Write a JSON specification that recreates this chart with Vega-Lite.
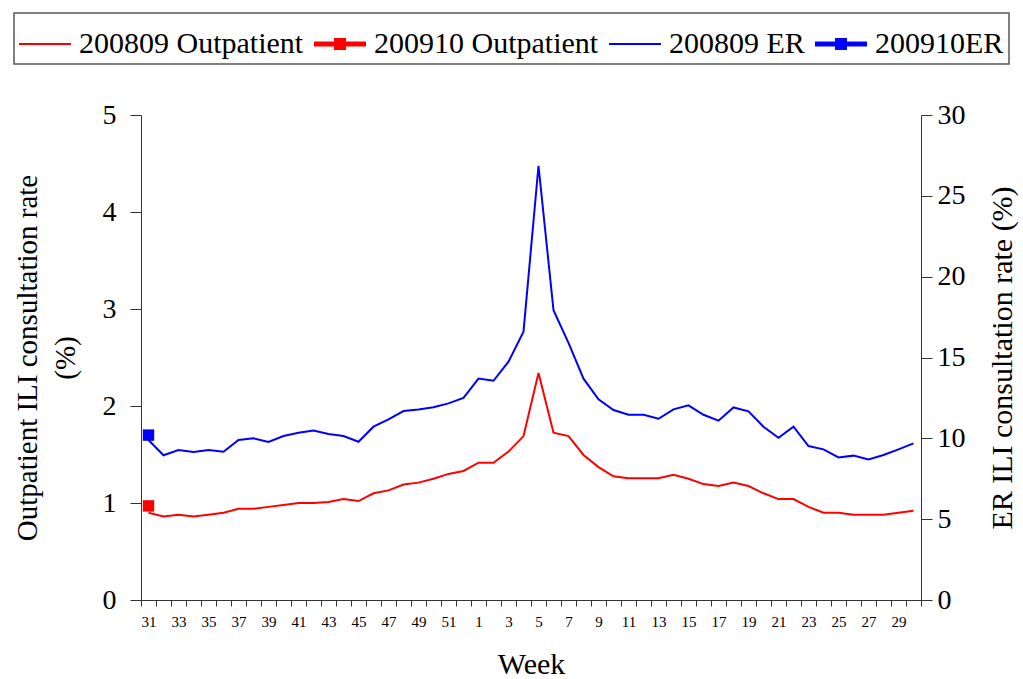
{
  "$schema": "https://vega.github.io/schema/vega-lite/v6.json",
  "width": 780,
  "height": 485,
  "autosize": "none",
  "padding": {"left": 141, "top": 115, "right": 102, "bottom": 79},
  "background": "white",
  "config": {
    "font": "Liberation Serif, Times New Roman, DejaVu Serif, serif",
    "view": {"stroke": null},
    "axis": {
      "grid": false,
      "domainColor": "#333333",
      "tickColor": "#333333",
      "labelColor": "#000000",
      "titleColor": "#000000",
      "titleFontWeight": "normal",
      "labelFont": "Liberation Serif, Times New Roman, DejaVu Serif, serif",
      "titleFont": "Liberation Serif, Times New Roman, DejaVu Serif, serif"
    },
    "legend": {"labelFont": "Liberation Serif, Times New Roman, DejaVu Serif, serif"}
  },
  "datasets": {
    "s0809": [
      {"week": 31, "outpatient": 0.90, "er": 9.9},
      {"week": 32, "outpatient": 0.86, "er": 8.95},
      {"week": 33, "outpatient": 0.88, "er": 9.28},
      {"week": 34, "outpatient": 0.86, "er": 9.15},
      {"week": 35, "outpatient": 0.88, "er": 9.28},
      {"week": 36, "outpatient": 0.90, "er": 9.17},
      {"week": 37, "outpatient": 0.94, "er": 9.9},
      {"week": 38, "outpatient": 0.94, "er": 10.0},
      {"week": 39, "outpatient": 0.96, "er": 9.77},
      {"week": 40, "outpatient": 0.98, "er": 10.14},
      {"week": 41, "outpatient": 1.00, "er": 10.35},
      {"week": 42, "outpatient": 1.00, "er": 10.48},
      {"week": 43, "outpatient": 1.01, "er": 10.27},
      {"week": 44, "outpatient": 1.04, "er": 10.14},
      {"week": 45, "outpatient": 1.02, "er": 9.79},
      {"week": 46, "outpatient": 1.10, "er": 10.72},
      {"week": 47, "outpatient": 1.13, "er": 11.17},
      {"week": 48, "outpatient": 1.19, "er": 11.69},
      {"week": 49, "outpatient": 1.21, "er": 11.79},
      {"week": 50, "outpatient": 1.25, "er": 11.92},
      {"week": 51, "outpatient": 1.30, "er": 12.16},
      {"week": 52, "outpatient": 1.33, "er": 12.5},
      {"week": 1, "outpatient": 1.415, "er": 13.7},
      {"week": 2, "outpatient": 1.415, "er": 13.56},
      {"week": 3, "outpatient": 1.53, "er": 14.74},
      {"week": 4, "outpatient": 1.69, "er": 16.6},
      {"week": 5, "outpatient": 2.34, "er": 26.86},
      {"week": 6, "outpatient": 1.725, "er": 17.93},
      {"week": 7, "outpatient": 1.69, "er": 15.91},
      {"week": 8, "outpatient": 1.495, "er": 13.69},
      {"week": 9, "outpatient": 1.37, "er": 12.41},
      {"week": 10, "outpatient": 1.275, "er": 11.75},
      {"week": 11, "outpatient": 1.255, "er": 11.46},
      {"week": 12, "outpatient": 1.255, "er": 11.46},
      {"week": 13, "outpatient": 1.255, "er": 11.21},
      {"week": 14, "outpatient": 1.29, "er": 11.79},
      {"week": 15, "outpatient": 1.25, "er": 12.04},
      {"week": 16, "outpatient": 1.195, "er": 11.46},
      {"week": 17, "outpatient": 1.175, "er": 11.09},
      {"week": 18, "outpatient": 1.21, "er": 11.91},
      {"week": 19, "outpatient": 1.175, "er": 11.67},
      {"week": 20, "outpatient": 1.10, "er": 10.72},
      {"week": 21, "outpatient": 1.04, "er": 10.04},
      {"week": 22, "outpatient": 1.04, "er": 10.72},
      {"week": 23, "outpatient": 0.96, "er": 9.52},
      {"week": 24, "outpatient": 0.90, "er": 9.32},
      {"week": 25, "outpatient": 0.90, "er": 8.82},
      {"week": 26, "outpatient": 0.88, "er": 8.93},
      {"week": 27, "outpatient": 0.88, "er": 8.70},
      {"week": 28, "outpatient": 0.88, "er": 8.97},
      {"week": 29, "outpatient": 0.90, "er": 9.32},
      {"week": 30, "outpatient": 0.92, "er": 9.69}
    ],
    "s0910": [
      {"week": 31, "outpatient": 0.97, "er": 10.2}
    ],
    "legendItems": [
      {"series": "200809 Outpatient"},
      {"series": "200910 Outpatient"},
      {"series": "200809 ER"},
      {"series": "200910ER"}
    ]
  },
  "layer": [
    {
      "layer": [
        {
          "data": {"name": "s0809"},
          "mark": {"type": "line", "color": "#ff0000", "strokeWidth": 2},
          "encoding": {
            "x": {
              "field": "week", "type": "ordinal",
              "scale": {"type": "band", "paddingInner": 0, "paddingOuter": 0,
                "domain": [31,32,33,34,35,36,37,38,39,40,41,42,43,44,45,46,47,48,49,50,51,52,1,2,3,4,5,6,7,8,9,10,11,12,13,14,15,16,17,18,19,20,21,22,23,24,25,26,27,28,29,30]},
              "axis": {
                "title": "Week",
                "titleFontSize": 30,
                "titlePadding": 20,
                "labelFontSize": 15,
                "labelAngle": 0,
                "labelPadding": 8,
                "tickBand": "extent",
                "tickSize": 6,
                "labelExpr": "datum.value % 2 == 1 ? datum.label : ''"
              }
            },
            "y": {
              "field": "outpatient", "type": "quantitative",
              "scale": {"domain": [0, 5]},
              "axis": {
                "orient": "left",
                "values": [0, 1, 2, 3, 4, 5],
                "format": "d",
                "title": ["Outpatient ILI consultation rate", "(%)"],
                "titleFontSize": 29,
                "titleLineHeight": 38,
                "titlePadding": 22,
                "labelFontSize": 28,
                "tickSize": 11,
                "labelPadding": 14
              }
            }
          }
        },
        {
          "data": {"name": "s0910"},
          "mark": {"type": "point", "shape": "square", "filled": true, "color": "#ff0000", "size": 130, "opacity": 1},
          "encoding": {
            "x": {"field": "week", "type": "ordinal"},
            "y": {"field": "outpatient", "type": "quantitative"}
          }
        }
      ]
    },
    {
      "layer": [
        {
          "data": {"name": "s0809"},
          "mark": {"type": "line", "color": "#0000ff", "strokeWidth": 2},
          "encoding": {
            "x": {"field": "week", "type": "ordinal"},
            "y": {
              "field": "er", "type": "quantitative",
              "scale": {"domain": [0, 30]},
              "axis": {
                "orient": "right",
                "values": [0, 5, 10, 15, 20, 25, 30],
                "format": "d",
                "title": "ER ILI consultation rate (%)",
                "titleAngle": 270,
                "titleBaseline": "top",
                "titleFontSize": 30,
                "titlePadding": 22,
                "labelFontSize": 28,
                "tickSize": 11,
                "labelPadding": 5
              }
            }
          }
        },
        {
          "data": {"name": "s0910"},
          "mark": {"type": "point", "shape": "square", "filled": true, "color": "#0000ff", "size": 130, "opacity": 1},
          "encoding": {
            "x": {"field": "week", "type": "ordinal"},
            "y": {"field": "er", "type": "quantitative"}
          }
        }
      ]
    },
    {
      "data": {"name": "legendItems"},
      "mark": {"type": "point", "filled": true, "opacity": 0},
      "encoding": {
        "color": {
          "field": "series", "type": "nominal",
          "scale": {
            "domain": ["200809 Outpatient", "200910 Outpatient", "200809 ER", "200910ER"],
            "range": ["#ff0000", "#ff0000", "#0000ff", "#0000ff"]
          },
          "legend": {
            "orient": "none",
            "legendX": -127,
            "legendY": -102,
            "direction": "horizontal",
            "columns": 4,
            "title": null,
            "labelFontSize": 30,
            "labelColor": "#000000",
            "labelOffset": 8,
            "columnPadding": 10,
            "symbolSize": 2704,
            "symbolOpacity": 1,
            "symbolStrokeWidth": 0,
            "padding": 5,
            "strokeColor": "#555555",
            "fillColor": "white",
            "gridAlign": "none",
            "labelLimit": 400,
            "encode": {"legend": {"update": {"strokeWidth": {"value": 1.5}}}}
          }
        },
        "shape": {
          "field": "series", "type": "nominal",
          "scale": {
            "domain": ["200809 Outpatient", "200910 Outpatient", "200809 ER", "200910ER"],
            "range": [
              "M-1,-0.04L1,-0.04L1,0.04L-1,0.04Z",
              "M-1,-0.1L-0.23,-0.1L-0.23,-0.23L0.23,-0.23L0.23,-0.1L1,-0.1L1,0.1L0.23,0.1L0.23,0.23L-0.23,0.23L-0.23,0.1L-1,0.1Z",
              "M-1,-0.04L1,-0.04L1,0.04L-1,0.04Z",
              "M-1,-0.1L-0.23,-0.1L-0.23,-0.23L0.23,-0.23L0.23,-0.1L1,-0.1L1,0.1L0.23,0.1L0.23,0.23L-0.23,0.23L-0.23,0.1L-1,0.1Z"
            ]
          }
        }
      }
    }
  ],
  "resolve": {"scale": {"y": "independent"}}
}
